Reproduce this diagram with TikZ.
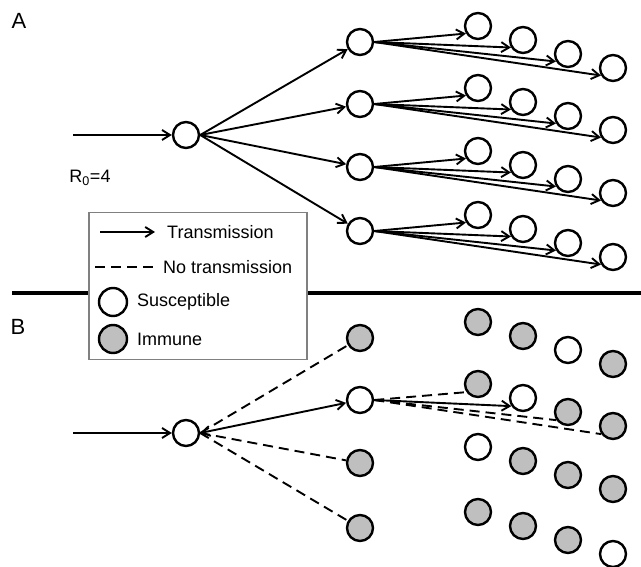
\documentclass[tikz,border=0pt]{standalone}
\usepackage{fontspec}
\setmainfont{Liberation Sans}
\usetikzlibrary{arrows.meta}

\begin{document}
\begin{tikzpicture}[x=1pt,y=-1pt,
    every node/.style={font=\fontsize{18}{20}\selectfont},
    >={Straight Barb[length=8pt,width=10pt]},
    sus/.style={circle,draw,line width=2.4pt,fill=white,minimum size=26pt,inner sep=0pt},
    imm/.style={sus,fill=gray!50},
    tr/.style={line width=1.9pt,->},
    notr/.style={line width=1.9pt,dash pattern=on 10pt off 6pt},
    lbl/.style={anchor=west,inner sep=0pt}]
      \useasboundingbox (0,0) rectangle (641,567);

      % panel A
      \node[font=\fontsize{22}{24}\selectfont] (labA) at (19,21) {A};
      \node (rnaught) at (90,178) {R\textsubscript{0}=4};
      \coordinate (ain) at (73,135);
      \node[sus] (a0) at (186,135) {};
      \draw[tr] (ain) -- (a0);
      \foreach \i/\y in {1/42,2/104,3/167,4/231} {
        \node[sus] (a\i) at (360,\y) {};
        \foreach \j/\x/\d in {1/478/-16,2/523/-2,3/568/12,4/613/26}
          \node[sus] (a\i\j) at (\x,\y+\d) {};
      }
      \foreach \i in {1,...,4} {
        \draw[tr] (a0.east) -- (a\i);
        \foreach \j in {1,...,4}
          \draw[tr] (a\i.east) -- (a\i\j.212);
      }

      % separator
      \coordinate (sepl) at (12,293);
      \coordinate (sepr) at (641,293);
      \draw[line width=4pt] (sepl) -- (sepr);

      % panel B
      \node[font=\fontsize{22}{24}\selectfont] (labB) at (18,327) {B};
      \coordinate (bin) at (73,433);
      \node[sus] (b0) at (186,433) {};
      \draw[tr] (bin) -- (b0);
      \foreach \i/\y/\s in {1/338/imm,2/400/sus,3/463/imm,4/528/imm}
        \node[\s] (b\i) at (360,\y) {};
      \foreach \n/\x/\y/\s in {b11/478/322/imm,b12/523/336/imm,b13/568/350/sus,b14/613/364/imm,
          b21/478/384/imm,b22/523/398/sus,b23/568/412/imm,b24/613/426/imm,
          b31/478/447/sus,b32/523/461/imm,b33/568/475/imm,b34/613/489/imm,
          b41/478/512/imm,b42/523/526/imm,b43/568/540/imm,b44/613/554/sus}
        \node[\s] (\n) at (\x,\y) {};
      \draw[tr,<->] (b0.east) -- (b2);
      \draw[notr] (b0.east) -- (b1);
      \draw[notr] (b0.east) -- (b3);
      \draw[notr] (b0.east) -- (b4);
      \draw[notr] (b2.east) -- (b21.215);
      \draw[tr] (b2.east) -- (b22.215);
      \draw[notr] (b2.east) -- (b23.215);
      \draw[notr] (b2.east) -- (b24.215);

      % legend
      \node[draw=gray,line width=1.5pt,fill=white,minimum width=218pt,minimum height=147pt,
        anchor=north west] (legend) at (88,212) {};
      \coordinate (ltra) at (100,232);
      \coordinate (ltrb) at (155,232);
      \draw[tr] (ltra) -- (ltrb);
      \node[lbl] (ltr) at (167,232) {Transmission};
      \coordinate (lnoa) at (95,267);
      \coordinate (lnob) at (153,267);
      \draw[notr] (lnoa) -- (lnob);
      \node[lbl] (lno) at (163,267) {No transmission};
      \node[sus,minimum size=28pt] (lsus) at (113,302) {};
      \node[lbl] (lsustxt) at (137,302) {Susceptible};
      \node[imm,minimum size=28pt] (limm) at (113,339) {};
      \node[lbl] (limmtxt) at (137,339) {Immune};
    \end{tikzpicture}
\end{document}
